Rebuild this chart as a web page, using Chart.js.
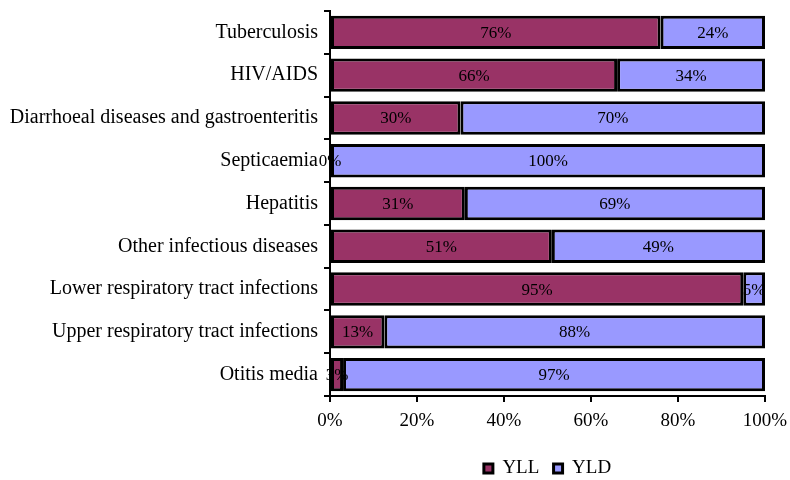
<!DOCTYPE html>
<html>
<head>
<meta charset="utf-8">
<script src="https://cdn.jsdelivr.net/npm/chart.js@4/dist/chart.umd.min.js"></script>
<style>
  html, body { margin: 0; padding: 0; background: #fff; }
  #wrap { width: 790px; height: 480px; position: relative; }
</style>
</head>
<body>
<div id="wrap"><canvas id="chart"></canvas></div>
<script>
// categories, top to bottom
const categories = [
    'Tuberculosis',
    'HIV/AIDS',
    'Diarrhoeal diseases and gastroenteritis',
    'Septicaemia',
    'Hepatitis',
    'Other infectious diseases',
    'Lower respiratory tract infections',
    'Upper respiratory tract infections',
    'Otitis media'
];
// share of burden, percent
const yll = [76, 66, 30, 0, 31, 51, 95, 12.5, 3];
const yld = [24, 34, 70, 100, 69, 49, 5, 87.5, 97];
const xTicks = [0, 20, 40, 60, 80, 100];

const serif = "'Liberation Serif', 'DejaVu Serif', serif";

// labels centred in each segment, like the spreadsheet data labels
const segmentLabels = {
    id: 'segmentLabels',
    afterDatasetsDraw(chart) {
        const ctx = chart.ctx;
        ctx.save();
        ctx.font = '17px ' + serif;
        ctx.fillStyle = '#000';
        ctx.textAlign = 'center';
        ctx.textBaseline = 'middle';
        chart.data.datasets.forEach((ds, i) => {
            chart.getDatasetMeta(i).data.forEach((bar, j) => {
                const v = ds.data[j];
                const cx = (bar.x + bar.base) / 2;
                ctx.fillText(Math.round(v) + '%', cx, bar.y + 1);
            });
        });
        ctx.restore();
    }
};

new Chart(document.getElementById('chart'), {
    type: 'bar',
    data: {
        labels: categories,
        datasets: [
            { label: 'YLL', data: yll, backgroundColor: '#993366', borderColor: '#000', borderWidth: 3, borderSkipped: false },
            { label: 'YLD', data: yld, backgroundColor: '#9999ff', borderColor: '#000', borderWidth: 3, borderSkipped: false }
        ]
    },
    options: {
        indexAxis: 'y',
        responsive: true,
        maintainAspectRatio: false,
        animation: false,
        categoryPercentage: 1,
        barPercentage: 0.78,
        layout: { padding: { top: 11, right: 25, left: 10, bottom: -8 } },
        plugins: {
            legend: {
                position: 'bottom',
                fullSize: false,
                labels: {
                    color: '#000',
                    font: { family: serif, size: 19 },
                    boxWidth: 9,
                    boxHeight: 9,
                    padding: 0,
                    generateLabels: (chart) => {
                        const items = Chart.defaults.plugins.legend.labels.generateLabels(chart);
                        items.forEach((it, i) => { if (i === 0) it.text = it.text + '   '; });
                        return items;
                    }
                }
            },
            tooltip: { enabled: false }
        },
        scales: {
            x: {
                stacked: true,
                min: 0,
                max: 100,
                afterBuildTicks: (axis) => { axis.ticks = xTicks.map(v => ({ value: v })); },
                afterFit: (axis) => {
                    axis.height = 63;
                    axis.paddingLeft = 0;
                    axis.paddingRight = 0;
                },
                border: { display: true, color: '#000', width: 2 },
                grid: { drawOnChartArea: false, color: '#000', lineWidth: 2, tickLength: 6 },
                ticks: {
                    color: '#000',
                    font: { family: serif, size: 19 },
                    padding: 8,
                    maxRotation: 0,
                    callback: (v) => v + '%'
                }
            },
            y: {
                stacked: true,
                afterFit: (axis) => {
                    axis.width = 320;
                    axis.paddingTop = 0;
                    axis.paddingBottom = 0;
                },
                border: { display: true, color: '#000', width: 2 },
                grid: { drawOnChartArea: false, color: '#000', lineWidth: 2, tickLength: 6, offset: true },
                ticks: {
                    color: '#000',
                    font: { family: serif, size: 20 },
                    padding: 6
                }
            }
        }
    },
    plugins: [segmentLabels]
});
</script>
</body>
</html>
